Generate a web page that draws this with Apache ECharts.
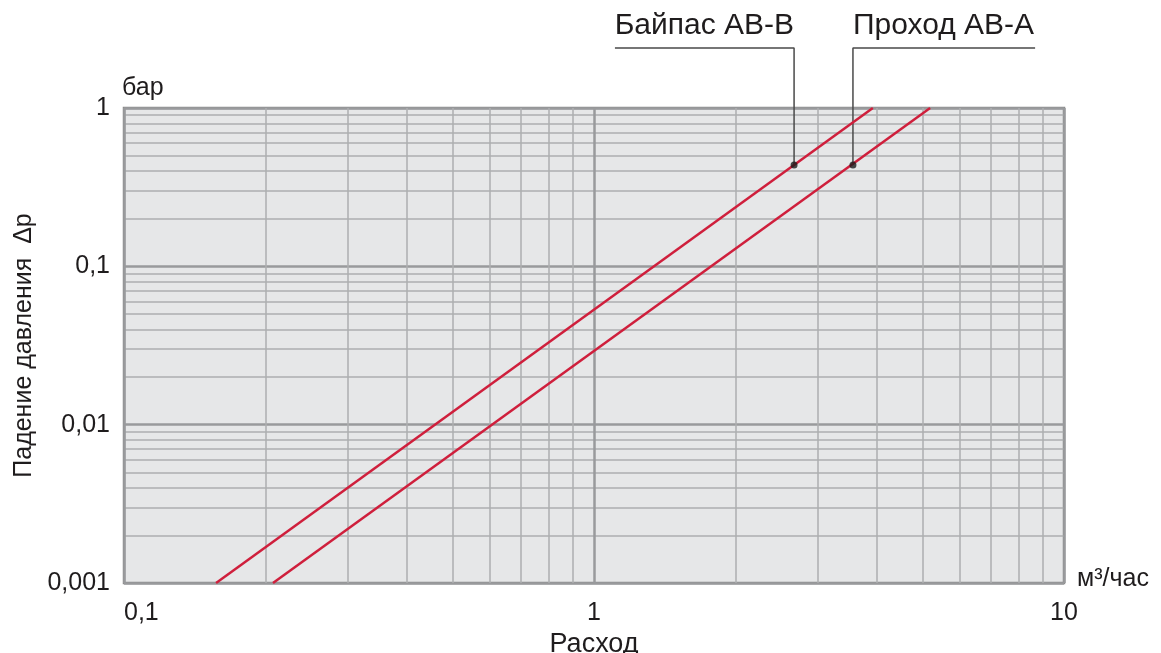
<!DOCTYPE html>
<html>
<head>
<meta charset="utf-8">
<title>Падение давления</title>
<script src="https://cdn.jsdelivr.net/npm/echarts@6.0.0/dist/echarts.min.js"></script>
<style>
html, body { margin: 0; padding: 0; background: #fff; }
#pressureChart { width: 1161px; height: 653px; }
</style>
</head>
<body>
<div id="pressureChart"></div>
<script>
// подписи делений осей
var xTickLabels = ['0,1', '1', '10'];
var yTickLabels = ['0,001', '0,01', '0,1', '1'];

// расход (м3/час) и падение давления (бар)
var bypassFlow = [0.157, 3.92];
var bypassDrop = [0.001, 1];
var passFlow = [0.2075, 5.19];
var passDrop = [0.001, 1];

// выноски: точка на линии, угол выноски, конец полки
var calloutNames = ['Байпас АВ-В', 'Проход АВ-А'];
var calloutFlow = [2.665, 3.556];
var calloutDrop = [0.436, 0.436];
var calloutEndFlow = [1.108, 8.68];
var calloutTopDrop = [2.39, 2.39];

var textColor = '#1f1c1d';
var fontName = '"Liberation Sans", Arial, sans-serif';

function zip(xs, ys)
{
	var r = [];
	for (var i = 0; i < xs.length; i++) {
		r.push([xs[i], ys[i]]);
	}
	return r;
}

function calloutSeries(i, alignSide)
{
	return {
		type: 'line',
		clip: false,
		silent: true,
		z: 3,
		symbol: 'circle',
		symbolSize: 0,
		lineStyle: { color: '#4a4a4a', width: 1.5 },
		data: [
			[calloutEndFlow[i], calloutTopDrop[i]],
			{
				value: [calloutFlow[i], calloutTopDrop[i]],
				label: {
					show: true,
					position: 'top',
					align: alignSide,
					distance: 7,
					formatter: calloutNames[i],
					fontSize: 30,
					fontFamily: fontName,
					color: textColor
				}
			},
			[calloutFlow[i], calloutDrop[i]]
		]
	};
}

var pressureChart = echarts.init(document.getElementById('pressureChart'));
var option = {
	animation: false,
	backgroundColor: '#fff',
	grid: {
		left: 124,
		top: 108,
		right: 97,
		bottom: 70,
		outerBoundsMode: 'none',
		containLabel: false,
		show: true,
		backgroundColor: '#e6e7e8',
		borderColor: '#8c8c8c',
		borderWidth: 2.5
	},
	xAxis: {
		type: 'log',
		logBase: 10,
		min: 0.1,
		max: 10,
		name: 'Расход',
		nameLocation: 'middle',
		nameGap: 42,
		nameTextStyle: { fontSize: 27, fontFamily: fontName, color: textColor },
		axisLine: { show: false },
		axisTick: { show: false },
		axisLabel: {
			margin: 18,
			fontSize: 25,
			fontFamily: fontName,
			color: textColor,
			alignMinLabel: 'left',
			formatter: function (v) { return xTickLabels[Math.round(Math.log10(v)) + 1]; }
		},
		splitLine: { show: true, lineStyle: { color: '#999a9c', width: 2.5 } },
		minorTick: { show: false, splitNumber: 9 },
		minorSplitLine: { show: true, lineStyle: { color: '#adaeb0', width: 1.5 } }
	},
	yAxis: {
		type: 'log',
		logBase: 10,
		min: 0.001,
		max: 1,
		name: 'Падение давления  Δp',
		nameLocation: 'middle',
		nameRotate: 90,
		nameGap: 77,
		nameTextStyle: { fontSize: 25, fontFamily: fontName, color: textColor },
		axisLine: { show: false },
		axisTick: { show: false },
		axisLabel: {
			margin: 14,
			fontSize: 25,
			fontFamily: fontName,
			color: textColor,
			formatter: function (v) { return yTickLabels[Math.round(Math.log10(v)) + 3]; }
		},
		splitLine: { show: true, lineStyle: { color: '#999a9c', width: 2.5 } },
		minorTick: { show: false, splitNumber: 9 },
		minorSplitLine: { show: true, lineStyle: { color: '#adaeb0', width: 1.5 } }
	},
	graphic: [
		{
			type: 'text', left: 122, top: 76,
			style: { text: 'бар', font: '25px ' + fontName, fill: textColor }
		},
		{
			type: 'text', left: 1077, top: 567,
			style: { text: 'м³/час', font: '25px ' + fontName, fill: textColor }
		}
	],
	series: [
		{
			name: calloutNames[0],
			type: 'line',
			silent: true,
			z: 4,
			symbol: 'none',
			lineStyle: { color: '#cf1f3c', width: 2.5 },
			data: zip(bypassFlow, bypassDrop)
		},
		{
			name: calloutNames[1],
			type: 'line',
			silent: true,
			z: 4,
			symbol: 'none',
			lineStyle: { color: '#cf1f3c', width: 2.5 },
			data: zip(passFlow, passDrop)
		},
		calloutSeries(0, 'right'),
		calloutSeries(1, 'left'),
		{
			type: 'scatter',
			silent: true,
			z: 5,
			symbolSize: 7,
			itemStyle: { color: '#1a1a1a' },
			data: zip(calloutFlow, calloutDrop)
		}
	]
};
pressureChart.setOption(option);
</script>
</body>
</html>
